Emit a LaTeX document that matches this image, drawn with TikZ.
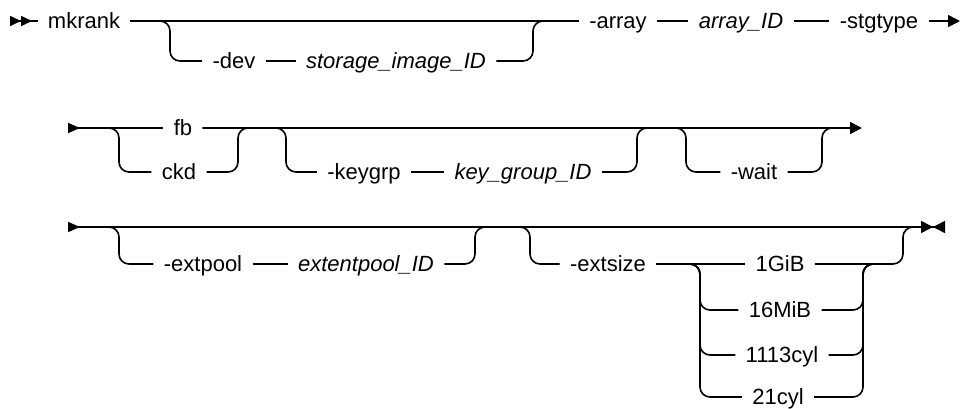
\documentclass[tikz,border=0pt]{standalone}
\usepackage{fontspec}
\setmainfont{Liberation Sans}
\usetikzlibrary{arrows.meta}

\begin{document}
\begin{tikzpicture}[x=0.5pt,y=-0.5pt,
  font=\fontsize{11}{13}\selectfont,
  rail/.style={line width=0.8pt,rounded corners=5pt},
  kw/.style={inner xsep=5pt,inner ysep=0pt,text height=7.5pt,text depth=0pt},
  var/.style={kw,font=\fontsize{11}{13}\selectfont\itshape}]
\useasboundingbox (0,0) rectangle (960,408);
% first line
\coordinate (start1) at (10,21);
\node[kw] (mkrank) at (84,21) {mkrank};
\node[kw] (dev) at (234,61) {-dev};
\node[var] (storageid) at (396,61) {storage\_image\_ID};
\node[kw] (array) at (618,21) {-array};
\node[var] (arrayid) at (741,21) {array\_ID};
\node[kw] (stgtype) at (879,21) {-stgtype};
\coordinate (end1) at (960,21);
\draw[rail,{Triangle[reversed,length=5.5pt,width=5pt]Triangle[reversed,length=5.5pt,width=5pt]}-] (start1) -- (mkrank);
\draw[rail] (mkrank) -- (array);
\draw[rail] (mkrank.east) -| (170,61) -- (dev);
\draw[rail] (dev) -- (storageid);
\draw[rail] (storageid) -| (533,21) -- (array);
\draw[rail] (array) -- (arrayid);
\draw[rail] (arrayid) -- (stgtype);
\draw[rail,-{Triangle[length=6pt,width=6pt]}] (stgtype) -- (end1);
% second line
\coordinate (start2) at (68,128);
\node[kw] (fb) at (183,128) {fb};
\node[kw] (ckd) at (179,172) {ckd};
\node[kw] (keygrp) at (364,172) {-keygrp};
\node[var] (keygroupid) at (523,172) {key\_group\_ID};
\node[kw] (wait) at (754,172) {-wait};
\coordinate (end2) at (862,128);
\draw[rail,{Triangle[reversed,length=6pt,width=5pt]}-] (start2) -- (fb);
\draw[rail] (start2) -| (119,172) -- (ckd);
\draw[rail,-{Triangle[length=6pt,width=6pt]}] (fb) -- (end2);
\draw[rail] (ckd) -| (238,128) -- ++(10,0);
\draw[rail] (fb) -| (286,172) -- (keygrp);
\draw[rail] (keygrp) -- (keygroupid);
\draw[rail] (keygroupid) -| (637,128) -- ++(10,0);
\draw[rail] (fb) -| (686,172) -- (wait);
\draw[rail] (wait) -| (822,128) -- ++(10,0);
% third line
\coordinate (start3) at (68,227);
\node[kw] (extpool) at (203,264) {-extpool};
\node[var] (extentpoolid) at (366,264) {extentpool\_ID};
\node[kw] (extsize) at (608,264) {-extsize};
\node[kw] (gib) at (780,264) {1GiB};
\node[kw] (mib) at (780,310) {16MiB};
\node[kw] (cyl) at (782,355) {1113cyl};
\node[kw] (cylb) at (778,397) {21cyl};
\coordinate (end3) at (945,227);
\draw[rail,{Triangle[reversed,length=6pt,width=5pt]}-{Triangle[length=6pt,width=6pt]Triangle[reversed,length=6pt,width=6pt]}] (start3) -- (end3);
\draw[rail] (start3) -| (119,264) -- (extpool);
\draw[rail] (extpool) -- (extentpoolid);
\draw[rail] (extentpoolid) -| (475,227) -- ++(10,0);
\draw[rail] (start3) -| (530,264) -- (extsize);
\draw[rail] (extsize) -- (gib);
\draw[rail] (extsize) -| (700,310) -- (mib);
\draw[rail] (extsize) -| (700,355) -- (cyl);
\draw[rail] (extsize) -| (700,397) -- (cylb);
\draw[rail] (mib) -| (863,264) -- ++(10,0);
\draw[rail] (cyl) -| (863,264) -- ++(10,0);
\draw[rail] (cylb) -| (863,264) -- ++(10,0);
\draw[rail] (gib) -| (903,227) -- ++(10,0);
\end{tikzpicture}
\end{document}
